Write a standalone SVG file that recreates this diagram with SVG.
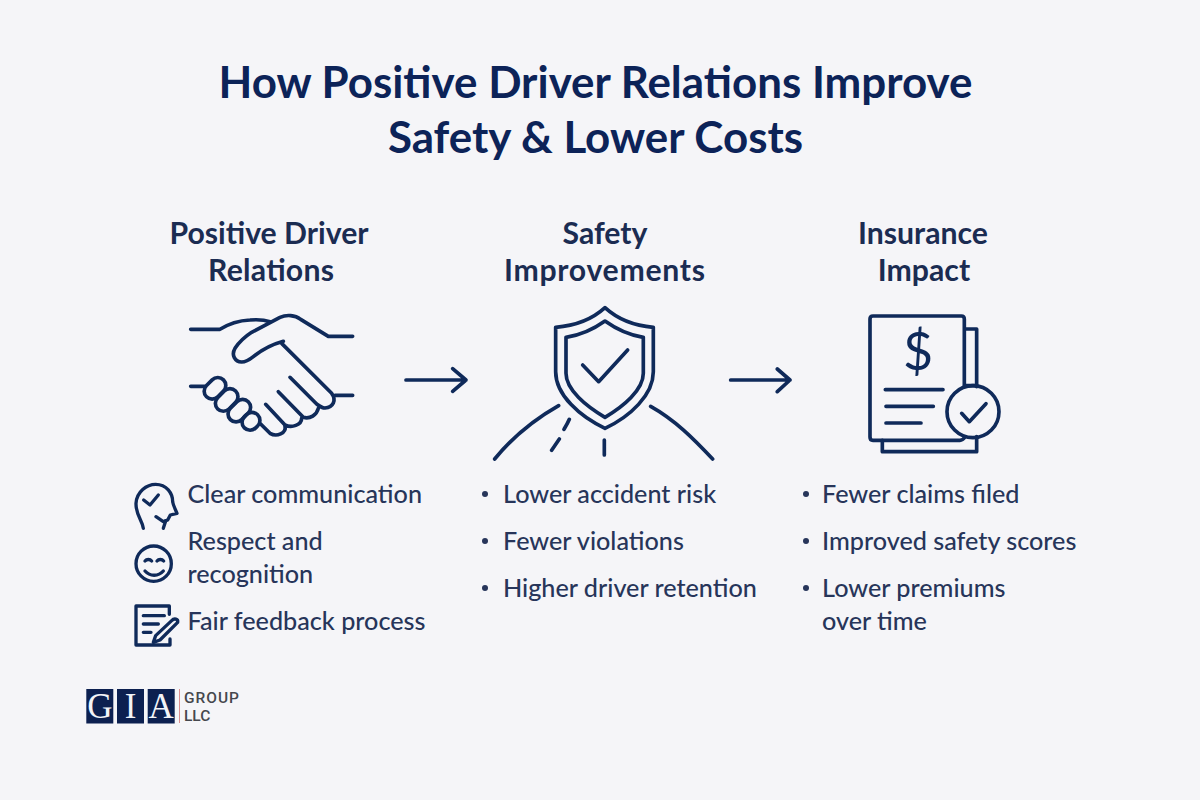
<svg xmlns="http://www.w3.org/2000/svg" width="1200" height="800" viewBox="0 0 1200 800">
<style>
.title{font:700 43.9px Lato,"Liberation Sans",sans-serif;fill:#0c2358;text-anchor:middle}
.head{font:700 30.2px Lato,"Liberation Sans",sans-serif;fill:#1b2c52;text-anchor:middle}
.body{font:500 25.2px Lato,"Liberation Sans",sans-serif;fill:#27355a}
.ic{fill:none;stroke:#0f2a5a;stroke-width:11;stroke-linecap:round;stroke-linejoin:round}
.dot{fill:#27355a}
.sq{fill:#0c2050}
.gia{font:400 35px "Liberation Serif",serif;fill:#f2f3f7;text-anchor:middle}
.logo{font:500 15.5px Roboto,"Liberation Sans",sans-serif;fill:#45474d}
</style>
<rect width="1200" height="800" fill="#f5f5f8"/>
<g id="title">
<text class="title" x="595.5" y="98">How Positive Driver Relations Improve</text>
<text class="title" x="595.5" y="153">Safety &amp; Lower Costs</text>
</g>
<g id="node-relations">
<text class="head" x="269" y="244">Positive Driver</text>
<text class="head" x="271" y="281" textLength="126" lengthAdjust="spacing">Relations</text>
<g transform="translate(170,300) scale(.3333)" class="ic">
<path d="M62 88H150C175 72 200 62 240 60C265 58 285 60 300 65"/>
<path d="M548 109H475L392 58C375 45 350 43 330 52L245 97C225 110 205 130 195 145C183 165 195 185 215 186C230 186 240 178 250 170C275 150 300 135 340 124"/>
<path d="M335 130L485 280C500 300 490 322 465 324C455 324 448 318 440 312L360 232"/>
<path d="M445 325C440 345 420 358 400 352L325 275"/>
<path d="M395 355C395 375 365 385 345 375L287 313"/>
<path d="M345 378C350 400 320 412 300 400L272 372"/>
<path d="M495 286H548M62 259H105"/>
<rect x="99" y="241" width="72" height="48" rx="24" transform="rotate(-45 135 265)"/>
<rect x="132" y="276" width="76" height="48" rx="24" transform="rotate(-45 170 300)"/>
<rect x="170" y="308" width="76" height="48" rx="24" transform="rotate(-45 208 332)"/>
<rect x="215" y="340" width="56" height="48" rx="24" transform="rotate(-45 243 364)"/>
</g>
<g transform="translate(125,475) scale(.3333)" class="ic" style="stroke-width:10">
<path d="M55 160C52 135 32 120 33 85C35 50 65 28 92 28C125 28 143 55 143 80C145 92 152 105 156 115L136 120L128 135L115 140L93 125"/>
<path d="M122 138L115 160"/>
<path d="M56 75L75 90L100 60"/>
<circle cx="86" cy="266" r="53"/>
<path d="M60 258C65 252 75 252 80 258M96 258C101 252 111 252 116 258M60 288C75 305 100 305 115 288"/>
<path d="M133 418V393H33V510H135V492"/>
<path d="M55 422H118M55 447H100M55 472H78"/>
<path d="M140 437C148 428 160 432 158 442L105 495L85 502L92 482Z"/>
</g>
<text class="body" x="187.5" y="503">Clear communication</text>
<text class="body" x="187.5" y="550">Respect and</text>
<text class="body" x="187.5" y="583">recognition</text>
<text class="body" x="187.5" y="630">Fair feedback process</text>
</g>
<g id="node-safety">
<text class="head" x="605" y="244">Safety</text>
<text class="head" x="604.5" y="281" textLength="201" lengthAdjust="spacing">Improvements</text>
<g transform="translate(480,295) scale(.3333)" class="ic">
<path d="M375 38C340 70 290 92 227 97V230C227 300 300 365 375 400C450 365 520 300 520 230V97C460 92 410 70 375 38Z"/>
<path d="M375 78C340 103 305 120 258 127V235C258 285 320 335 375 367C430 335 490 285 490 235V127C445 120 410 103 375 78Z"/>
<path d="M308 210L356 260L443 165"/>
<path d="M44 492C95 430 160 375 236 332M512 334C585 375 640 430 698 492M268 373C263 385 258 393 252 403M238 432L215 466M373 435V480"/>
</g>
<circle class="dot" cx="485" cy="494" r="3"/>
<circle class="dot" cx="485" cy="541" r="3"/>
<circle class="dot" cx="485" cy="588" r="3"/>
<text class="body" x="503" y="503">Lower accident risk</text>
<text class="body" x="503" y="550">Fewer violations</text>
<text class="body" x="503" y="597">Higher driver retention</text>
</g>
<g id="node-insurance">
<text class="head" x="923" y="244">Insurance</text>
<text class="head" x="924" y="281">Impact</text>
<g transform="translate(850,305) scale(.3333)" class="ic">
<path d="M343 245V42Q343 33 334 33H69Q60 33 60 42V396Q60 406 69 406H330Q338 406 345 396"/>
<path d="M345 72H380V245M348 242H380M380 395V440H97V406"/>
<circle cx="369" cy="320" r="78"/>
<path d="M106 254H279M108 304H250M108 354H213M335 325L358 350L408 296"/>
</g>
<text x="918" y="370" font-family="Lato,'Liberation Sans',sans-serif" font-size="52" font-weight="400" fill="#0f2a5a" text-anchor="middle">$</text>
<circle class="dot" cx="806" cy="494" r="3"/>
<circle class="dot" cx="806" cy="541" r="3"/>
<circle class="dot" cx="806" cy="588" r="3"/>
<text class="body" x="822" y="503">Fewer claims filed</text>
<text class="body" x="822" y="550">Improved safety scores</text>
<text class="body" x="822" y="597">Lower premiums</text>
<text class="body" x="822" y="630">over time</text>
</g>
<g id="connectors" class="ic">
<g transform="translate(170,300) scale(.3333)"><path d="M708 240H888M848 206L888 240L848 274"/></g>
<g transform="translate(480,295) scale(.3333)"><path d="M752 255H930M892 222L930 255L892 290"/></g>
</g>
<g id="logo">
<rect class="sq" x="86.3" y="689" width="27" height="34.5"/>
<rect class="sq" x="117" y="689" width="27" height="34.5"/>
<rect class="sq" x="147.7" y="689" width="27" height="34.5"/>
<text class="gia" x="99.8" y="717.5">G</text>
<text class="gia" x="130.5" y="717.5">I</text>
<text class="gia" x="161.2" y="717.5">A</text>
<rect x="179" y="689" width="1" height="34" fill="#dc8f8f"/>
<text class="logo" x="184" y="702.5" textLength="55" lengthAdjust="spacing">GROUP</text>
<text class="logo" x="184" y="721">LLC</text>
</g>
</svg>
